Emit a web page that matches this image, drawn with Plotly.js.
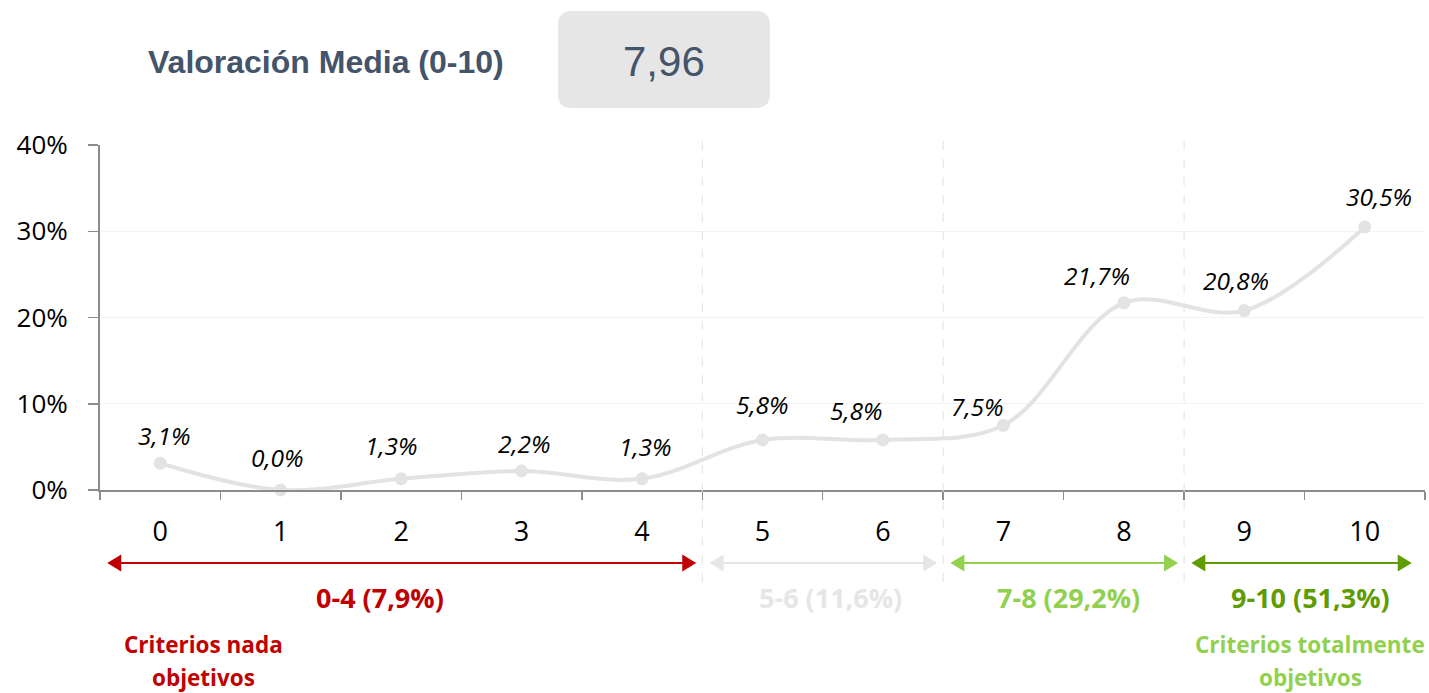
<!DOCTYPE html>
<html>
<head>
<meta charset="utf-8">
<script src="https://cdn.plot.ly/plotly-3.0.1.min.js"></script>
<style>
  html, body { margin: 0; padding: 0; background: #ffffff; }
  #chart { width: 1429px; height: 693px; }
</style>
</head>
<body>
<div id="chart"></div>
<script>
// ---- data ----
const categories = ['0', '1', '2', '3', '4', '5', '6', '7', '8', '9', '10'];
const values = [3.1, 0.0, 1.3, 2.2, 1.3, 5.8, 5.8, 7.5, 21.7, 20.8, 30.5];
const groupLabels = ['0-4 (7,9%)', '5-6 (11,6%)', '7-8 (29,2%)', '9-10 (51,3%)'];
const groupStart = [0, 5, 7, 9];
const groupEnd = [4, 6, 8, 10];
const meanTitle = 'Valoración Media (0-10)';
const meanValue = '7,96';
const leftNote = ['Criterios nada', 'objetivos'];
const rightNote = ['Criterios totalmente', 'objetivos'];

// ---- styling ----
const groupColors = ['#c00000', '#e6e6e6', '#92d050', '#5f9c00'];
const groupLabelShift = [-0.176, 0.066, 0.041, 0.049];
const labelDx = [4, -3, -10, 3, 3, 0, -26, -26, -27, -8, 14];
const labelDy = [28, 33, 33, 28, 32, 35, 29, 19, 27, 30, 30];
const navy = '#44546a';

// plot geometry helpers (for decorations outside plot)
const L = 100, R = 1425, T = 145, B = 490;
const px = x => (x - L) / (R - L);
const py = y => (B - y) / (B - T);

const fmt = v => v.toFixed(1).replace('.', ',') + '%';

const trace = {
  x: categories,
  y: values,
  type: 'scatter',
  mode: 'lines+markers',
  line: { color: '#e3e3e3', width: 4, shape: 'spline', smoothing: 1 },
  marker: { color: '#e3e3e3', size: 13 },
  hoverinfo: 'skip',
  cliponaxis: false
};

const annotations = [];
values.forEach((v, i) => {
  annotations.push({
    x: categories[i], y: v, xref: 'x', yref: 'y',
    text: fmt(v), showarrow: false,
    xshift: labelDx[i], yshift: labelDy[i],
    font: { family: 'Open Sans', size: 24.5, color: '#000000', style: 'italic' }
  });
});

const shapes = [];
// dashed separators
[4.5, 6.5, 8.5].forEach(xv => {
  shapes.push({
    type: 'line', xref: 'x', yref: 'paper',
    x0: xv, x1: xv, y0: py(582), y1: py(135),
    line: { color: '#e2e2e2', width: 1, dash: 'dash' }
  });
});

// group arrows + labels
const arrowY = py(563);
const headLen = 14 / 120.5;
const headHalf = 8.5 / (B - T);
groupLabels.forEach((lab, g) => {
  const x0 = groupStart[g] - 0.44;
  const x1 = groupEnd[g] + (g === 3 ? 0.39 : 0.45);
  const c = groupColors[g];
  shapes.push({
    type: 'line', xref: 'x', yref: 'paper',
    x0: x0 + headLen * 0.8, x1: x1 - headLen * 0.8, y0: arrowY, y1: arrowY,
    line: { color: c, width: 2 }
  });
  shapes.push({
    type: 'path', xref: 'x', yref: 'paper',
    path: `M ${x0} ${arrowY} L ${x0 + headLen} ${arrowY + headHalf} L ${x0 + headLen} ${arrowY - headHalf} Z`,
    fillcolor: c, line: { color: c, width: 0 }
  });
  shapes.push({
    type: 'path', xref: 'x', yref: 'paper',
    path: `M ${x1} ${arrowY} L ${x1 - headLen} ${arrowY + headHalf} L ${x1 - headLen} ${arrowY - headHalf} Z`,
    fillcolor: c, line: { color: c, width: 0 }
  });
  annotations.push({
    x: (groupStart[g] + groupEnd[g]) / 2 + groupLabelShift[g], y: py(597), xref: 'x', yref: 'paper',
    text: '<b>' + lab + '</b>', showarrow: false,
    xanchor: 'center', yanchor: 'middle',
    font: { family: 'Open Sans', size: 27, color: c }
  });
});

// notes
[[leftNote, 203, groupColors[0]], [rightNote, 1310, groupColors[2]]].forEach(([lines, cx, c]) => {
  lines.forEach((t, k) => {
    annotations.push({
      x: px(cx), y: py(644 + 33 * k), xref: 'paper', yref: 'paper',
      text: '<b>' + t + '</b>', showarrow: false,
      xanchor: 'center', yanchor: 'middle', borderpad: 0,
      font: { family: 'Open Sans', size: 22.5, color: c }
    });
  });
});

// header
const bx0 = 558, bx1 = 770, by0 = 11, by1 = 108, r = 14;
const rx = r / (R - L), ry = r / (B - T);
const X0 = px(bx0), X1 = px(bx1), Y0 = py(by1), Y1 = py(by0);
shapes.push({
  type: 'path', xref: 'paper', yref: 'paper',
  path: `M ${X0 + rx} ${Y1} L ${X1 - rx} ${Y1} Q ${X1} ${Y1} ${X1} ${Y1 - ry} L ${X1} ${Y0 + ry} Q ${X1} ${Y0} ${X1 - rx} ${Y0} L ${X0 + rx} ${Y0} Q ${X0} ${Y0} ${X0} ${Y0 + ry} L ${X0} ${Y1 - ry} Q ${X0} ${Y1} ${X0 + rx} ${Y1} Z`,
  fillcolor: '#e6e6e6', line: { width: 0 }
});
annotations.push({
  x: px(326), y: py(62), xref: 'paper', yref: 'paper',
  text: '<b>' + meanTitle + '</b>', showarrow: false,
  xanchor: 'center', yanchor: 'middle',
  font: { family: 'Liberation Sans, Arial', size: 32, color: navy }
});
annotations.push({
  x: px(664), y: py(61), xref: 'paper', yref: 'paper',
  text: meanValue, showarrow: false,
  xanchor: 'center', yanchor: 'middle',
  font: { family: 'Liberation Sans, Arial', size: 42, color: navy }
});

const layout = {
  width: 1429, height: 693,
  margin: { l: L, r: 1429 - R, t: T, b: 693 - B },
  paper_bgcolor: '#ffffff', plot_bgcolor: '#ffffff',
  showlegend: false,
  xaxis: {
    type: 'category', range: [-0.5, 10.5],
    tickson: 'boundaries', ticks: 'outside', ticklen: 8, tickwidth: 1.5, tickcolor: '#8c8c8c',
    showline: true, linecolor: '#8c8c8c', linewidth: 2,
    showgrid: false, zeroline: false,
    ticklabelstandoff: 17,
    tickfont: { family: 'Open Sans', size: 27, color: '#000000' },
    fixedrange: true
  },
  yaxis: {
    range: [0, 40], dtick: 10, tick0: 0, ticksuffix: '%',
    ticks: 'outside', ticklen: 10, tickwidth: 1.5, tickcolor: '#8c8c8c',
    showline: true, linecolor: '#8c8c8c', linewidth: 2,
    showgrid: true, gridcolor: '#f3f3f3', gridwidth: 1, zeroline: false,
    ticklabelstandoff: 15,
    tickfont: { family: 'Open Sans', size: 26, color: '#000000' },
    fixedrange: true
  },
  shapes: shapes,
  annotations: annotations
};

Plotly.newPlot('chart', [trace], layout, { displayModeBar: false, staticPlot: true });
</script>
</body>
</html>
